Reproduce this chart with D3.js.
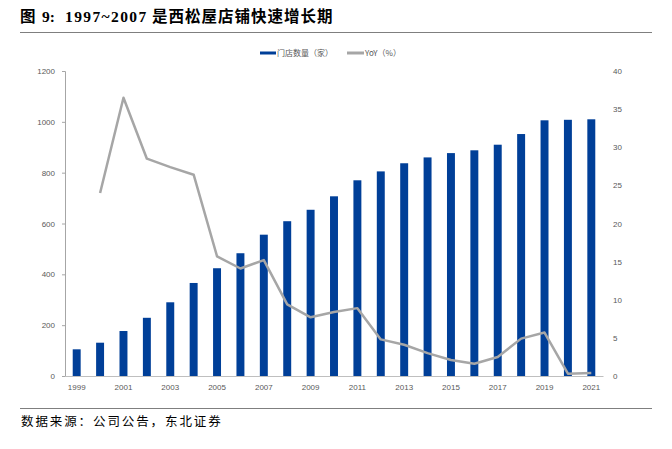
<!DOCTYPE html>
<html><head><meta charset="utf-8">
<script src="https://cdn.jsdelivr.net/npm/d3@7"></script>
<style>body{margin:0;background:#fff}svg{display:block}</style>
</head><body>
<svg id="c" width="672" height="449"></svg>
<script>
const years = ["1999","2000","2001","2002","2003","2004","2005","2006","2007","2008","2009","2010","2011","2012","2013","2014","2015","2016","2017","2018","2019","2020","2021"];
const stores = [105,131,177,229,290,366,424,483,556,609,654,707,770,805,837,860,877,888,910,952,1006,1008,1010];
const yoy = [null,24.0,36.5,28.5,27.4,26.4,15.7,14.1,15.2,9.4,7.7,8.4,8.9,4.8,4.1,3.0,2.1,1.6,2.5,4.9,5.7,0.3,0.4];
const leftTicks = [0,200,400,600,800,1000,1200];
const rightTicks = [0,5,10,15,20,25,30,35,40];
const xLabels = ["1999","2001","2003","2005","2007","2009","2011","2013","2015","2017","2019","2021"];

const svg = d3.select("#c");
const L=65,R=603,T=71,B=376;
const x = d3.scaleBand().domain(years).range([L,R]).paddingInner(0.66).paddingOuter(0.33);
const yL = d3.scaleLinear().domain([0,1200]).range([B,T]);
const yR = d3.scaleLinear().domain([0,40]).range([B,T]);
const tickFont = "Liberation Sans, Arial, sans-serif";

// Title
const tg = svg.append("g").attr("font-size",15.5).attr("font-weight","bold").attr("fill","#000");
tg.append("text").attr("x",20).attr("y",22).attr("font-family","Noto Sans CJK SC").text("图");
tg.append("text").attr("x",42).attr("y",22).attr("font-family","Liberation Serif").text("9:");
tg.append("text").attr("x",65).attr("y",22).attr("font-family","Liberation Serif").attr("letter-spacing",1.4).text("1997~2007");
tg.append("text").attr("x",152).attr("y",22).attr("font-family","Noto Sans CJK SC").attr("letter-spacing",1).text("是西松屋店铺快速增长期");
svg.append("line").attr("x1",20).attr("x2",652).attr("y1",32.5).attr("y2",32.5).attr("stroke","#7f7f7f").attr("stroke-width",1.2);

// Footer
svg.append("line").attr("x1",20).attr("x2",652).attr("y1",408.5).attr("y2",408.5).attr("stroke","#7f7f7f").attr("stroke-width",1.2);
svg.append("text").attr("x",21).attr("y",426).attr("font-size",12.5).attr("letter-spacing",1.9).attr("font-family","Noto Sans CJK SC").attr("fill","#000").text("数据来源：公司公告，东北证券");

// Legend
const lg = svg.append("g").attr("font-family","Noto Sans CJK SC").attr("font-size",8).attr("fill","#595959");
lg.append("line").attr("x1",260).attr("x2",276).attr("y1",53).attr("y2",53).attr("stroke","#003f98").attr("stroke-width",3);
lg.append("text").attr("x",277).attr("y",56).text("门店数量（家）");
lg.append("line").attr("x1",347).attr("x2",364).attr("y1",53).attr("y2",53).attr("stroke","#a6a6a6").attr("stroke-width",3);
lg.append("text").attr("x",365).attr("y",56).text("YoY（%）");

// Left axis
const la = svg.append("g").attr("transform",`translate(${L},0)`)
  .call(d3.axisLeft(yL).tickValues(leftTicks).tickFormat(d3.format("d")).tickSize(3).tickPadding(7));
la.select(".domain").attr("stroke","#a6a6a6");
la.selectAll(".tick line").attr("stroke","#a6a6a6");
la.selectAll("text").attr("font-family",tickFont).attr("font-size",8).attr("fill","#595959");

// Right axis
const ra = svg.append("g").attr("transform",`translate(${R+7},0)`)
  .call(d3.axisRight(yR).tickValues(rightTicks).tickSize(0).tickPadding(3));
ra.select(".domain").remove();
ra.selectAll("text").attr("font-family",tickFont).attr("font-size",8).attr("fill","#595959");

// Bars
svg.append("g").selectAll("rect").data(stores).join("rect")
  .attr("x",(d,i)=>x(years[i])).attr("width",x.bandwidth())
  .attr("y",d=>yL(d)).attr("height",d=>B-yL(d)).attr("fill","#003f98");

// Bottom axis
const ba = svg.append("g").attr("transform",`translate(0,${B})`)
  .call(d3.axisBottom(x).tickValues(xLabels).tickSize(0).tickPadding(8));
ba.select(".domain").attr("stroke","#bfbfbf").attr("stroke-width",1.2);
ba.selectAll("text").attr("font-family",tickFont).attr("font-size",8).attr("fill","#595959");

// Line
const line = d3.line().defined(d=>d!=null).x((d,i)=>x(years[i])+x.bandwidth()/2).y(d=>yR(d));
svg.append("path").datum(yoy).attr("d",line).attr("fill","none").attr("stroke","#a6a6a6").attr("stroke-width",2.5).attr("stroke-linejoin","round");
</script>
</body></html>
